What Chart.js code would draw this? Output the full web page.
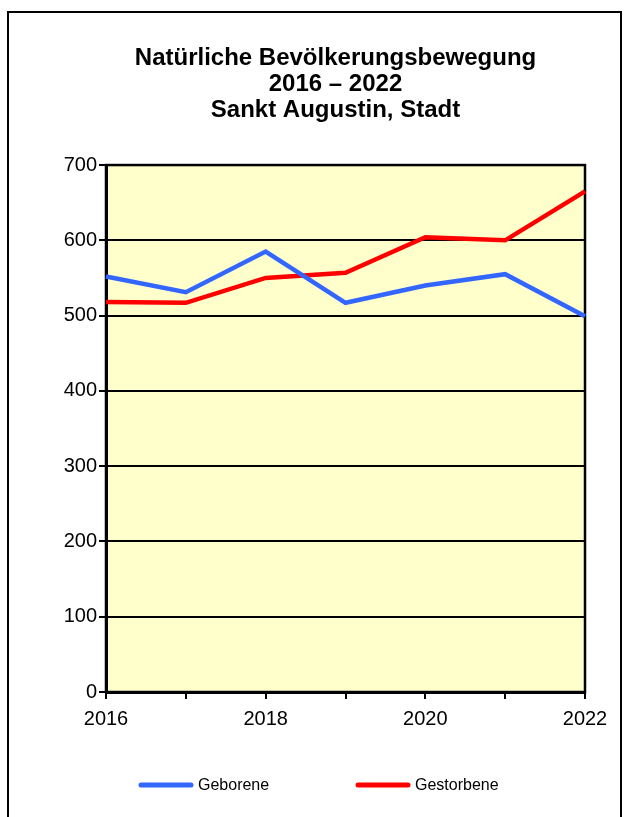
<!DOCTYPE html>
<html>
<head>
<meta charset="utf-8">
<script src="https://cdn.jsdelivr.net/npm/chart.js@4/dist/chart.umd.min.js"></script>
<style>
  html, body { margin: 0; padding: 0; background: #fff; }
  #wrap { width: 625px; height: 817px; }
</style>
</head>
<body>
<div id="wrap"><canvas id="chart" width="625" height="817"></canvas></div>
<script>
// data
const years = ['2016', '2017', '2018', '2019', '2020', '2021', '2022'];
const geborene = [552, 531, 585, 517, 540, 555, 499];
const gestorbene = [518, 517, 550, 557, 604, 600, 665];
const seriesNames = ['Geborene', 'Gestorbene'];
const titleLines = ['Natürliche Bevölkerungsbewegung', '2016 – 2022', 'Sankt Augustin, Stadt'];

const FONT = '"Liberation Sans", Arial, Helvetica, sans-serif';

// white page, outer frame, yellow plot area
const framePlugin = {
  id: 'frame',
  afterLayout(chart) {
    // title is centred on the frame, not on the plot
    chart.titleBlock.left = 50;
    chart.titleBlock.right = 621;
  },
  beforeDraw(chart) {
    const { ctx, chartArea: a } = chart;
    ctx.save();
    ctx.fillStyle = '#fff';
    ctx.fillRect(0, 0, chart.width, chart.height);
    ctx.strokeStyle = '#000';
    ctx.lineWidth = 2;
    ctx.strokeRect(8, 12, 613, 830);
    ctx.fillStyle = '#FFFFCC';
    ctx.fillRect(a.left, a.top, a.right - a.left, a.bottom - a.top);
    ctx.restore();
  },
  beforeDatasetsDraw(chart) {
    const { ctx, chartArea: a } = chart;
    ctx.save();
    ctx.strokeStyle = '#000';
    ctx.lineWidth = 2.5;
    ctx.strokeRect(a.left, a.top, a.right - a.left, a.bottom - a.top);
    ctx.restore();
  }
};

// legend like the excel one: long line sample, wide gap
const legendPlugin = {
  id: 'excelLegend',
  afterDraw(chart) {
    const ctx = chart.ctx;
    const y = 785;
    const starts = [138, 355];
    ctx.save();
    ctx.font = '16px ' + FONT;
    ctx.textBaseline = 'middle';
    chart.data.datasets.forEach((ds, i) => {
      const x = starts[i];
      ctx.strokeStyle = ds.borderColor;
      ctx.lineWidth = 5;
      ctx.lineCap = 'round';
      ctx.beginPath();
      ctx.moveTo(x + 3, y);
      ctx.lineTo(x + 53, y);
      ctx.stroke();
      ctx.fillStyle = '#000';
      ctx.fillText(ds.label, x + 60, y + 1);
    });
    ctx.restore();
  }
};

new Chart(document.getElementById('chart'), {
  type: 'line',
  data: {
    labels: years,
    datasets: [
      {
        label: seriesNames[0],
        data: geborene,
        borderColor: '#3366FF',
        borderWidth: 4.5,
        pointRadius: 0,
        tension: 0
      },
      {
        label: seriesNames[1],
        data: gestorbene,
        borderColor: '#FF0000',
        borderWidth: 4.5,
        pointRadius: 0,
        tension: 0
      }
    ]
  },
  options: {
    responsive: false,
    animation: false,
    layout: {
      padding: { left: 40, right: 40, top: 0, bottom: 78 }
    },
    plugins: {
      legend: { display: false },
      tooltip: { enabled: false },
      title: {
        display: true,
        text: titleLines,
        color: '#000',
        font: { family: FONT, size: 24, weight: 'bold', lineHeight: 1.07 },
        padding: { top: 46, bottom: 42 }
      }
    },
    scales: {
      x: {
        offset: false,
        grid: {
          drawOnChartArea: false,
          drawTicks: true,
          tickLength: 7,
          color: '#000',
          lineWidth: 2
        },
        border: { color: '#000', width: 3 },
        ticks: {
          autoSkip: false,
          maxRotation: 0,
          padding: 8,
          color: '#000',
          font: { family: FONT, size: 20 },
          callback: (v, i) => (i % 2 === 0 ? years[i] : '')
        }
      },
      y: {
        min: 0,
        max: 700,
        afterFit(scale) { scale.width = 66; },
        grid: {
          color: '#000',
          lineWidth: 2,
          tickLength: 7
        },
        border: { color: '#000', width: 3 },
        ticks: {
          stepSize: 100,
          padding: 2,
          color: '#000',
          font: { family: FONT, size: 20 }
        }
      }
    }
  },
  plugins: [framePlugin, legendPlugin]
});
</script>
</body>
</html>
